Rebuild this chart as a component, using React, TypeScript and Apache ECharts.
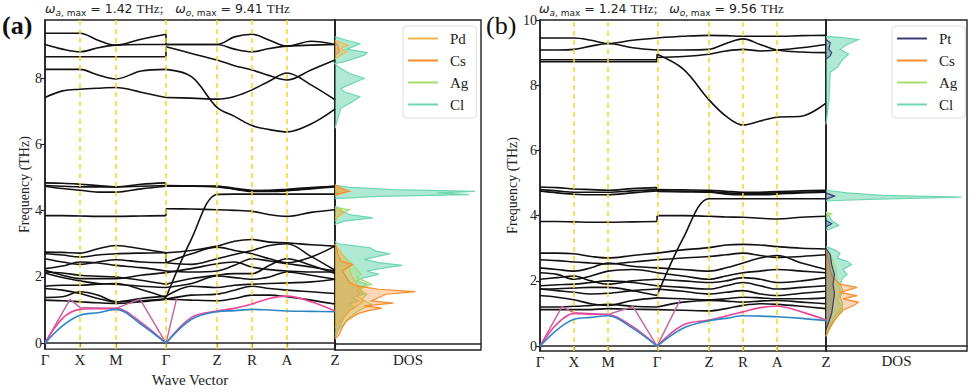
import React, { useEffect, useRef } from "react";
import * as echarts from "echarts";

// ---------- k-path ----------
const kLabels = ["Γ", "X", "M", "Γ", "Z", "R", "A", "Z"];
const kPosA = [0, 0.35, 0.71, 1.21, 1.72, 2.07, 2.42, 2.9];
const kPosB = [0, 0.345, 0.69, 1.187, 1.714, 2.059, 2.404, 2.9];

// ---------- panel (a) bands: seg1 = Γ,½,X,½,M,½,Γ ; seg2 = Γ,½,Z,½,R,½,A,½,Z ----------
const bandsA1 = [
  [9.36, 9.36, 9.36, 9.15, 9.0, 9.18, 9.33],
  [9.02, 8.88, 8.8, 8.92, 9.0, 9.02, 9.02],
  [8.65, 8.65, 8.65, 8.65, 8.65, 8.65, 8.65],
  [8.27, 8.27, 8.27, 8.1, 7.98, 8.22, 8.27],
  [7.42, 7.62, 7.67, 7.7, 7.72, 7.58, 7.42],
  [4.84, 4.83, 4.8, 4.76, 4.72, 4.8, 4.84],
  [4.76, 4.74, 4.72, 4.72, 4.72, 4.74, 4.76],
  [4.74, 4.67, 4.62, 4.56, 4.56, 4.66, 4.74],
  [3.85, 3.85, 3.84, 3.83, 3.83, 3.84, 3.85],
  [1.72, 1.75, 1.75, 1.78, 1.8, 1.62, 1.38],
  [2.75, 2.74, 2.72, 2.85, 2.95, 2.85, 2.73],
  [2.7, 2.66, 2.6, 2.66, 2.7, 2.72, 2.73],
  [2.55, 2.45, 2.38, 2.45, 2.52, 2.45, 2.43],
  [2.25, 2.33, 2.45, 2.42, 2.35, 2.28, 2.18],
  [2.2, 2.05, 1.95, 1.95, 1.95, 2.05, 2.13],
  [2.15, 2.12, 2.05, 2.02, 2.0, 1.9, 1.78],
  [2.12, 1.98, 1.88, 1.8, 1.78, 1.72, 1.68],
  [1.65, 1.6, 1.5, 1.35, 1.25, 1.35, 1.42],
  [1.38, 1.4, 1.55, 1.45, 1.25, 1.28, 1.33],
  [1.3, 1.28, 1.25, 1.22, 1.2, 1.25, 1.33],
];
const bandsA2 = [
  [9.02, 9.02, 9.02, 9.25, 9.33, 9.15, 8.97, 9.12, 9.02],
  [9.02, 9.02, 9.02, 8.88, 8.8, 8.9, 8.97, 9.0, 9.02],
  [8.95, 8.75, 8.55, 8.38, 8.25, 8.08, 7.95, 8.25, 8.55],
  [8.27, 8.05, 7.12, 6.85, 6.57, 6.45, 6.38, 6.62, 7.07],
  [7.42, 7.4, 7.37, 7.45, 7.65, 7.92, 8.16, 7.8, 7.35],
  [4.76, 4.75, 4.74, 4.68, 4.62, 4.6, 4.62, 4.68, 4.74],
  [4.74, 4.74, 4.74, 4.66, 4.6, 4.62, 4.65, 4.7, 4.74],
  [4.74, 4.74, 4.72, 4.65, 4.58, 4.58, 4.6, 4.66, 4.72],
  [4.06, 4.05, 4.03, 4.01, 3.98, 3.88, 3.83, 3.95, 4.03],
  [1.38, 3.15, 4.49, 4.5, 4.5, 4.5, 4.5, 4.5, 4.5],
  [2.73, 2.8, 2.93, 3.08, 3.13, 3.05, 3.03, 2.97, 2.93],
  [2.43, 2.7, 2.9, 2.8, 2.7, 2.55, 2.43, 2.6, 2.93],
  [2.43, 2.38, 2.55, 2.68, 2.8, 2.95, 3.0, 2.62, 2.2],
  [2.18, 2.15, 2.18, 2.35, 2.55, 2.48, 2.4, 2.3, 2.18],
  [2.13, 2.25, 2.4, 2.45, 2.3, 2.22, 2.18, 2.15, 2.15],
  [1.78, 1.95, 2.05, 2.1, 2.1, 2.35, 2.55, 2.35, 2.1],
  [1.68, 1.8, 2.03, 1.98, 1.93, 2.0, 2.15, 2.05, 1.93],
  [1.42, 1.72, 1.68, 1.75, 1.78, 1.8, 1.82, 1.85, 1.93],
  [1.33, 1.45, 1.48, 1.6, 1.72, 1.65, 1.6, 1.55, 1.5],
  [1.33, 1.3, 1.28, 1.35, 1.45, 1.45, 1.4, 1.3, 1.18],
];
const blueA1 = [0, 0.52, 0.84, 0.92, 1.02, 0.57, 0];
const blueA2 = [0, 0.72, 0.95, 0.98, 1.02, 1.0, 0.97, 0.96, 0.95];
const pinkA1 = [0, 0.75, 1.02, 1.04, 1.05, 0.63, 0];
const pinkA2 = [0, 0.78, 0.97, 1.05, 1.18, 1.35, 1.42, 1.25, 0.97];
const mauveA = [[0, 0], [0.25, 1.32], [0.35, 1.08], [0.71, 1.05], [0.95, 1.33], [1.21, 0], [1.317, 1.36]];

// ---------- panel (b) bands ----------
const bandsB1 = [
  [9.45, 9.45, 9.45, 9.38, 9.28, 9.38, 9.45],
  [9.08, 9.08, 9.1, 9.2, 9.28, 9.15, 9.08],
  [8.78, 8.78, 8.78, 8.78, 8.78, 8.78, 8.78],
  [8.72, 8.72, 8.72, 8.72, 8.72, 8.72, 8.72],
  [4.88, 4.86, 4.82, 4.8, 4.78, 4.83, 4.86],
  [4.8, 4.76, 4.72, 4.72, 4.72, 4.76, 4.8],
  [4.76, 4.7, 4.66, 4.64, 4.64, 4.7, 4.76],
  [3.82, 3.82, 3.81, 3.8, 3.8, 3.81, 3.82],
  [1.75, 1.76, 1.78, 1.8, 1.8, 1.7, 1.55],
  [2.85, 2.85, 2.83, 2.75, 2.7, 2.78, 2.85],
  [2.65, 2.62, 2.58, 2.55, 2.52, 2.58, 2.65],
  [2.4, 2.35, 2.3, 2.4, 2.55, 2.45, 2.4],
  [2.25, 2.2, 2.05, 2.15, 2.3, 2.35, 2.25],
  [2.05, 2.1, 2.15, 2.0, 1.9, 2.0, 2.05],
  [1.85, 1.88, 1.9, 1.95, 2.0, 1.95, 1.85],
  [1.75, 1.7, 1.65, 1.6, 1.62, 1.7, 1.75],
  [1.55, 1.5, 1.42, 1.3, 1.25, 1.4, 1.48],
  [1.2, 1.2, 1.22, 1.25, 1.28, 1.22, 1.2],
  [1.12, 1.12, 1.12, 1.12, 1.15, 1.13, 1.12],
];
const bandsB2 = [
  [9.45, 9.5, 9.53, 9.52, 9.5, 9.5, 9.5, 9.52, 9.53],
  [9.08, 9.08, 9.1, 9.28, 9.42, 9.25, 9.08, 9.02, 9.0],
  [8.85, 8.88, 8.95, 9.05, 9.1, 9.05, 9.08, 9.15, 9.25],
  [8.95, 8.5, 7.55, 7.05, 6.78, 6.9, 7.02, 7.05, 7.45],
  [4.8, 4.79, 4.78, 4.75, 4.72, 4.72, 4.74, 4.76, 4.78],
  [4.76, 4.75, 4.74, 4.7, 4.68, 4.68, 4.7, 4.72, 4.74],
  [4.74, 4.73, 4.72, 4.66, 4.64, 4.64, 4.66, 4.7, 4.72],
  [4.0, 4.0, 3.98, 3.96, 3.95, 3.92, 3.9, 3.95, 3.98],
  [1.55, 3.3, 4.52, 4.52, 4.52, 4.52, 4.52, 4.52, 4.52],
  [2.85, 2.95, 3.02, 3.1, 3.12, 3.1, 3.05, 3.0, 2.98],
  [2.65, 2.7, 2.75, 2.8, 2.85, 2.78, 2.72, 2.75, 2.8],
  [2.4, 2.35, 2.3, 2.4, 2.55, 2.7, 2.78, 2.55, 2.35],
  [2.25, 2.15, 2.05, 2.15, 2.25, 2.3, 2.35, 2.3, 2.25],
  [2.05, 2.0, 1.95, 2.0, 2.1, 2.05, 1.95, 2.0, 2.1],
  [1.85, 1.8, 1.75, 1.85, 1.95, 1.85, 1.75, 1.8, 1.85],
  [1.75, 1.68, 1.6, 1.65, 1.7, 1.6, 1.55, 1.62, 1.68],
  [1.48, 1.45, 1.42, 1.45, 1.5, 1.48, 1.45, 1.45, 1.48],
  [1.2, 1.35, 1.4, 1.38, 1.35, 1.38, 1.4, 1.35, 1.3],
  [1.12, 1.1, 1.08, 1.15, 1.25, 1.3, 1.28, 1.22, 1.15],
];
const blueB1 = [0, 0.5, 0.82, 0.88, 0.93, 0.55, 0];
const blueB2 = [0, 0.55, 0.78, 0.85, 0.93, 0.92, 0.9, 0.85, 0.78];
const pinkB1 = [0, 0.68, 1.0, 0.98, 0.97, 0.6, 0];
const pinkB2 = [0, 0.65, 0.8, 0.92, 1.05, 1.18, 1.22, 1.05, 0.8];
const mauveB = [[0, 0], [0.223, 1.21], [0.345, 1.02], [0.69, 0.97], [0.943, 1.21], [1.187, 0], [1.42, 1.41]];

// ---------- DOS: [frequency, dos] ----------
const dosClA = [[0.2, 0], [0.4, 0.02], [0.6, 0.04], [0.8, 0.06], [1.0, 0.1], [1.1, 0.14], [1.2, 0.1], [1.3, 0.16], [1.4, 0.12], [1.5, 0.2], [1.6, 0.15], [1.7, 0.18], [1.8, 0.22], [1.9, 0.15], [2.0, 0.2], [2.1, 0.3], [2.2, 0.22], [2.3, 0.35], [2.37, 0.46], [2.45, 0.3], [2.55, 0.2], [2.65, 0.3], [2.72, 0.38], [2.8, 0.28], [2.9, 0.24], [2.95, 0.15], [3.02, 0.02], [3.1, 0], [3.6, 0], [3.7, 0.06], [3.8, 0.26], [3.9, 0.1], [4.0, 0.05], [4.1, 0.03], [4.15, 0], [4.38, 0], [4.45, 0.3], [4.5, 0.92], [4.55, 0.7], [4.6, 0.96], [4.65, 0.4], [4.72, 0.1], [4.78, 0], [6.5, 0], [6.8, 0.02], [7.1, 0.04], [7.3, 0.12], [7.45, 0.17], [7.6, 0.06], [7.7, 0.04], [7.85, 0.12], [8.0, 0.2], [8.15, 0.1], [8.35, 0.02], [8.45, 0], [8.5, 0.06], [8.7, 0.2], [8.78, 0.22], [8.88, 0.08], [8.95, 0.12], [9.05, 0.17], [9.15, 0.08], [9.25, 0]];
const dosAgA = [[0.3, 0], [0.8, 0.1], [1.0, 0.16], [1.2, 0.25], [1.35, 0.18], [1.5, 0.22], [1.65, 0.17], [1.8, 0.25], [2.0, 0.15], [2.1, 0.18], [2.4, 0.12], [2.7, 0.05], [3.0, 0], [3.7, 0], [3.95, 0.05], [4.05, 0.1], [4.1, 0], [4.5, 0], [4.6, 0.03], [4.7, 0]];
const dosPdA = [[0.5, 0], [1.0, 0.1], [1.3, 0.2], [1.45, 0.15], [1.6, 0.18], [2.0, 0.12], [2.5, 0.08], [3.0, 0], [3.8, 0], [3.95, 0.06], [4.1, 0], [4.45, 0], [4.6, 0.08], [4.75, 0], [8.6, 0], [8.8, 0.08], [8.9, 0.04], [9.0, 0.09], [9.15, 0]];
const dosCsA = [[0.15, 0], [0.3, 0.03], [0.5, 0.05], [0.7, 0.08], [0.9, 0.15], [1.0, 0.22], [1.08, 0.32], [1.15, 0.2], [1.23, 0.4], [1.3, 0.25], [1.4, 0.3], [1.5, 0.35], [1.58, 0.55], [1.65, 0.3], [1.75, 0.15], [1.85, 0.1], [2.0, 0.08], [2.2, 0.05], [2.4, 0.12], [2.5, 0.04], [2.7, 0.02], [2.9, 0.01], [3.0, 0], [4.5, 0], [4.6, 0.1], [4.7, 0.04], [4.8, 0], [8.7, 0], [8.8, 0.03], [9.0, 0.02], [9.1, 0]];

const dosClB = [[0.3, 0], [0.6, 0.03], [0.9, 0.06], [1.1, 0.1], [1.3, 0.12], [1.5, 0.1], [1.7, 0.12], [1.9, 0.1], [2.1, 0.12], [2.2, 0.15], [2.35, 0.12], [2.5, 0.18], [2.6, 0.15], [2.7, 0.08], [2.85, 0.1], [2.95, 0.06], [3.05, 0], [3.55, 0], [3.7, 0.09], [3.85, 0.04], [4.0, 0.02], [4.1, 0], [4.45, 0], [4.5, 0.3], [4.57, 0.96], [4.62, 0.4], [4.7, 0.15], [4.78, 0], [6.8, 0], [7.5, 0.02], [8.4, 0.03], [8.55, 0.08], [8.8, 0.12], [8.95, 0.16], [9.1, 0.1], [9.25, 0.15], [9.4, 0.23], [9.47, 0.1], [9.5, 0]];
const dosAgB = [[0.3, 0], [0.8, 0.06], [1.15, 0.12], [1.4, 0.08], [1.7, 0.1], [2.0, 0.08], [2.4, 0.07], [2.7, 0.04], [3.0, 0], [3.95, 0], [4.05, 0.04], [4.1, 0]];
const dosCsB = [[0.3, 0], [0.6, 0.03], [0.9, 0.08], [1.1, 0.12], [1.25, 0.2], [1.35, 0.23], [1.45, 0.12], [1.55, 0.22], [1.65, 0.1], [1.8, 0.22], [1.9, 0.1], [2.1, 0.05], [2.3, 0.03], [2.6, 0.02], [3.0, 0]];
const dosPtB = [[0.5, 0], [1.0, 0.04], [1.3, 0.05], [1.6, 0.06], [1.9, 0.05], [2.2, 0.06], [2.5, 0.04], [2.8, 0.03], [3.0, 0], [3.65, 0], [3.75, 0.04], [3.85, 0], [4.5, 0], [4.6, 0.06], [4.7, 0], [8.8, 0], [8.9, 0.03], [9.0, 0.04], [9.1, 0.02], [9.3, 0.03], [9.4, 0]];

const freqTicksA = [0, 2, 4, 6, 8];
const freqTicksB = [0, 2, 4, 6, 8, 10];

const C = {
  Pd: "#f4b54a",
  Cs: "#fb8a2c",
  Ag: "#a6dc6b",
  Cl: "#6ed7b0",
  Pt: "#3d3a75",
  blue: "#2f86c6",
  pink: "#e9479b",
  mauve: "#c569a6",
  gold: "#fbd21e",
  axis: "#222",
};
const SERIF = "Liberation Serif";

function seg1K(k: number[]) {
  return [k[0], (k[0] + k[1]) / 2, k[1], (k[1] + k[2]) / 2, k[2], (k[2] + k[3]) / 2, k[3]];
}
function seg2K(k: number[]) {
  return [k[3], (k[3] + k[4]) / 2, k[4], (k[4] + k[5]) / 2, k[5], (k[5] + k[6]) / 2, k[6], (k[6] + k[7]) / 2, k[7]];
}

function lineS(data: number[][], xi: number, color: string, width: number, smooth: number | boolean, z = 3) {
  return {
    type: "line",
    xAxisIndex: xi,
    yAxisIndex: xi,
    data,
    smooth,
    symbol: "none",
    showSymbol: false,
    silent: true,
    z,
    lineStyle: { color, width },
  };
}

function bandSeries(s1: number[][], s2: number[][], kp: number[], xi: number, color: string, width: number) {
  const k1 = seg1K(kp);
  const k2 = seg2K(kp);
  const out: any[] = [];
  s1.forEach((vals, i) => {
    const v2 = s2[i];
    out.push(lineS(k1.map((k, j) => [k, vals[j]]), xi, color, width, 0.35));
    out.push(lineS(k2.map((k, j) => [k, v2[j]]), xi, color, width, 0.35));
    if (Math.abs(vals[vals.length - 1] - v2[0]) > 0.01) {
      out.push(lineS([[kp[3], vals[vals.length - 1]], [kp[3], v2[0]]], xi, color, width, false));
    }
  });
  return out;
}

function hexA(hex: string, a: number) {
  const n = parseInt(hex.slice(1), 16);
  return `rgba(${(n >> 16) & 255},${(n >> 8) & 255},${n & 255},${a})`;
}

function dosSeries(name: string, pts: number[][], color: string, alpha: number, xi: number) {
  // split outline into pieces that are not lying on the zero axis
  const chunks: number[][][] = [];
  let cur: number[][] = [];
  pts.forEach((p, i) => {
    cur.push(p);
    const nx = pts[i + 1];
    if (!nx || (p[1] === 0 && nx[1] === 0)) {
      if (cur.length > 1) chunks.push(cur);
      cur = [];
    }
  });
  return {
    type: "custom",
    name,
    xAxisIndex: xi,
    yAxisIndex: xi,
    silent: true,
    itemStyle: { color },
    data: pts.map((p) => [p[1], p[0]]),
    encode: { x: 0, y: 1 },
    z: 2,
    renderItem: (params: any, api: any) => {
      if (params.dataIndex !== 0) return null;
      const points = [
        api.coord([0, pts[0][0]]),
        ...pts.map((p) => api.coord([p[1], p[0]])),
        api.coord([0, pts[pts.length - 1][0]]),
      ];
      return {
        type: "group",
        children: [
          { type: "polygon", shape: { points }, style: { fill: hexA(color, alpha), stroke: "none" } },
          ...chunks.map((ch) => ({
            type: "polyline",
            shape: { points: ch.map((p) => api.coord([p[1], p[0]])) },
            style: { fill: "none", stroke: color, lineWidth: 1.2 },
          })),
        ],
      };
    },
  };
}

function goldLines(kp: number[], xi: number) {
  return {
    type: "line",
    xAxisIndex: xi,
    yAxisIndex: xi,
    data: [],
    silent: true,
    z: 1,
    markLine: {
      silent: true,
      symbol: ["none", "none"],
      label: { show: false },
      animation: false,
      lineStyle: { color: C.gold, type: [5, 4], width: 1.5 },
      data: kp.slice(1, 7).map((k) => ({ xAxis: k })),
    },
  };
}

function bandXAxis(kp: number[], gi: number, name: string) {
  return {
    type: "value",
    gridIndex: gi,
    min: 0,
    max: 2.9,
    axisLine: { show: true, lineStyle: { color: C.axis, width: 1.6 } },
    axisTick: { show: true, length: 4, customValues: kp, lineStyle: { color: C.axis, width: 1.2 } },
    axisLabel: {
      customValues: kp,
      margin: 3,
      fontFamily: SERIF,
      fontSize: 15,
      color: C.axis,
      formatter: (v: number) => {
        let best = 0;
        kp.forEach((k, i) => {
          if (Math.abs(k - v) < Math.abs(kp[best] - v)) best = i;
        });
        return kLabels[best];
      },
    },
    splitLine: { show: false },
    name,
    nameLocation: "middle",
    nameGap: 17,
    nameTextStyle: { fontFamily: SERIF, fontSize: 15, color: C.axis },
  };
}

function bandYAxis(gi: number, min: number, max: number, ticks: number[]) {
  return {
    type: "value",
    gridIndex: gi,
    min,
    max,
    axisLine: { show: true, lineStyle: { color: C.axis, width: 1.6 } },
    axisTick: { show: true, length: 4, customValues: ticks, lineStyle: { color: C.axis, width: 1.2 } },
    axisLabel: { customValues: ticks, margin: 3, fontFamily: SERIF, fontSize: 14, color: C.axis },
    splitLine: { show: false },
    name: "Frequency (THz)",
    nameLocation: "middle",
    nameGap: 9,
    nameTextStyle: { fontFamily: SERIF, fontSize: 14, color: C.axis },
  };
}

function dosXAxis(gi: number) {
  return {
    type: "value",
    gridIndex: gi,
    min: 0,
    max: 1,
    axisLine: { show: true, lineStyle: { color: C.axis, width: 1.6 } },
    axisTick: { show: false },
    axisLabel: { show: false },
    splitLine: { show: false },
    name: "DOS",
    nameLocation: "middle",
    nameGap: 2,
    nameTextStyle: { fontFamily: SERIF, fontSize: 15, color: C.axis, verticalAlign: "top" },
  };
}

function dosYAxis(gi: number, min: number, max: number) {
  return {
    type: "value",
    gridIndex: gi,
    min,
    max,
    axisLine: { show: true, lineStyle: { color: C.axis, width: 1.6 } },
    axisTick: { show: false },
    axisLabel: { show: false },
    splitLine: { show: false },
  };
}

function legendCfg(names: string[], left: number) {
  return {
    data: names.map((n) => ({ name: n, icon: "rect" })),
    orient: "vertical",
    left,
    top: 26,
    itemWidth: 30,
    itemHeight: 2,
    itemGap: 7,
    selectedMode: false,
    padding: [5, 8, 6, 5],
    borderColor: "#dcdcdc",
    borderWidth: 1,
    borderRadius: 4,
    backgroundColor: "rgba(255,255,255,0.85)",
    textStyle: { fontFamily: SERIF, fontSize: 15, color: C.axis, padding: [0, 0, 0, 7] },
  };
}

function omegaText(a: string, o: string) {
  return `{w|ω}{s|a}{r|, max}{e| = ${a} }{t|THz;}{e|   }{w|ω}{s|o}{r|, max}{e| = ${o} }{t|THz}`;
}
const omegaRich = {
  w: { fontFamily: "DejaVu Sans", fontStyle: "italic", fontSize: 12.5, lineHeight: 18, fill: C.axis },
  s: { fontFamily: "DejaVu Sans", fontStyle: "italic", fontSize: 9, lineHeight: 13, verticalAlign: "bottom", fill: C.axis },
  r: { fontFamily: "DejaVu Sans", fontSize: 9, lineHeight: 13, verticalAlign: "bottom", fill: C.axis },
  e: { fontFamily: "DejaVu Sans", fontSize: 12.5, lineHeight: 18, fill: C.axis },
  t: { fontFamily: SERIF, fontSize: 13, lineHeight: 18, fill: C.axis },
};

export default function App() {
  const ref = useRef<HTMLDivElement>(null);
  useEffect(() => {
    document.body.style.margin = "0";
    if (!ref.current) return;
    const chart = echarts.init(ref.current, undefined, { renderer: "svg" });
    const minA = -0.18, maxA = 9.76, minB = -0.15, maxB = 10;
    const k1A = seg1K(kPosA), k2A = seg2K(kPosA), k1B = seg1K(kPosB), k2B = seg2K(kPosB);
    const series: any[] = [
      goldLines(kPosA, 0),
      goldLines(kPosB, 2),
      ...bandSeries(bandsA1, bandsA2, kPosA, 0, "#111", 1.6),
      ...bandSeries(bandsB1, bandsB2, kPosB, 2, "#111", 1.6),
      lineS(mauveA.slice(0, 6), 0, C.mauve, 1.5, false, 4),
      lineS(mauveA.slice(5), 0, C.mauve, 1.5, false, 4),
      lineS(k1A.map((k, j) => [k, pinkA1[j]]), 0, C.pink, 1.6, 0.35, 5),
      lineS(k2A.map((k, j) => [k, pinkA2[j]]), 0, C.pink, 1.6, 0.35, 5),
      lineS(k1A.map((k, j) => [k, blueA1[j]]), 0, C.blue, 1.6, 0.35, 5),
      lineS(k2A.map((k, j) => [k, blueA2[j]]), 0, C.blue, 1.6, 0.35, 5),
      lineS(mauveB.slice(0, 6), 2, C.mauve, 1.5, false, 4),
      lineS(mauveB.slice(5), 2, C.mauve, 1.5, false, 4),
      lineS(k1B.map((k, j) => [k, pinkB1[j]]), 2, C.pink, 1.6, 0.35, 5),
      lineS(k2B.map((k, j) => [k, pinkB2[j]]), 2, C.pink, 1.6, 0.35, 5),
      lineS(k1B.map((k, j) => [k, blueB1[j]]), 2, C.blue, 1.6, 0.35, 5),
      lineS(k2B.map((k, j) => [k, blueB2[j]]), 2, C.blue, 1.6, 0.35, 5),
      dosSeries("Cl", dosClA, C.Cl, 0.55, 1),
      dosSeries("Ag", dosAgA, C.Ag, 0.35, 1),
      dosSeries("Pd", dosPdA, C.Pd, 0.3, 1),
      dosSeries("Cs", dosCsA, C.Cs, 0.35, 1),
      dosSeries("Cl", dosClB, C.Cl, 0.55, 3),
      dosSeries("Ag", dosAgB, C.Ag, 0.35, 3),
      dosSeries("Cs", dosCsB, C.Cs, 0.35, 3),
      dosSeries("Pt", dosPtB, C.Pt, 0.25, 3),
    ];
    const option: any = {
      animation: false,
      backgroundColor: "#fff",
      grid: [
        { left: 45, top: 20, width: 290, height: 330, show: true, borderColor: C.axis, borderWidth: 1.4, backgroundColor: "transparent" },
        { left: 335, top: 20, width: 146, height: 330, show: true, borderColor: C.axis, borderWidth: 1.4, backgroundColor: "transparent" },
        { left: 540, top: 20, width: 286, height: 331, show: true, borderColor: C.axis, borderWidth: 1.4, backgroundColor: "transparent" },
        { left: 826, top: 20, width: 141, height: 331, show: true, borderColor: C.axis, borderWidth: 1.4, backgroundColor: "transparent" },
      ],
      xAxis: [bandXAxis(kPosA, 0, "Wave Vector"), dosXAxis(1), bandXAxis(kPosB, 2, ""), dosXAxis(3)],
      yAxis: [bandYAxis(0, minA, maxA, freqTicksA), dosYAxis(1, minA, maxA), bandYAxis(2, minB, maxB, freqTicksB), dosYAxis(3, minB, maxB)],
      legend: [legendCfg(["Pd", "Cs", "Ag", "Cl"], 403), legendCfg(["Pt", "Cs", "Ag", "Cl"], 892)],
      graphic: [
        { type: "text", left: 2, top: 12, style: { text: "(a)", fontFamily: SERIF, fontSize: 26, fontWeight: "bold", fill: "#111" } },
        { type: "text", left: 486, top: 12, style: { text: "(b)", fontFamily: SERIF, fontSize: 26, fill: "#111" } },
        { type: "text", left: 45, top: 2, style: { text: omegaText("1.42", "9.41"), rich: omegaRich } },
        { type: "text", left: 539, top: 2, style: { text: omegaText("1.24", "9.56"), rich: omegaRich } },
      ],
      series,
    };
    chart.setOption(option);
    return () => chart.dispose();
  }, []);
  return <div ref={ref} style={{ width: 971, height: 392 }} />;
}
